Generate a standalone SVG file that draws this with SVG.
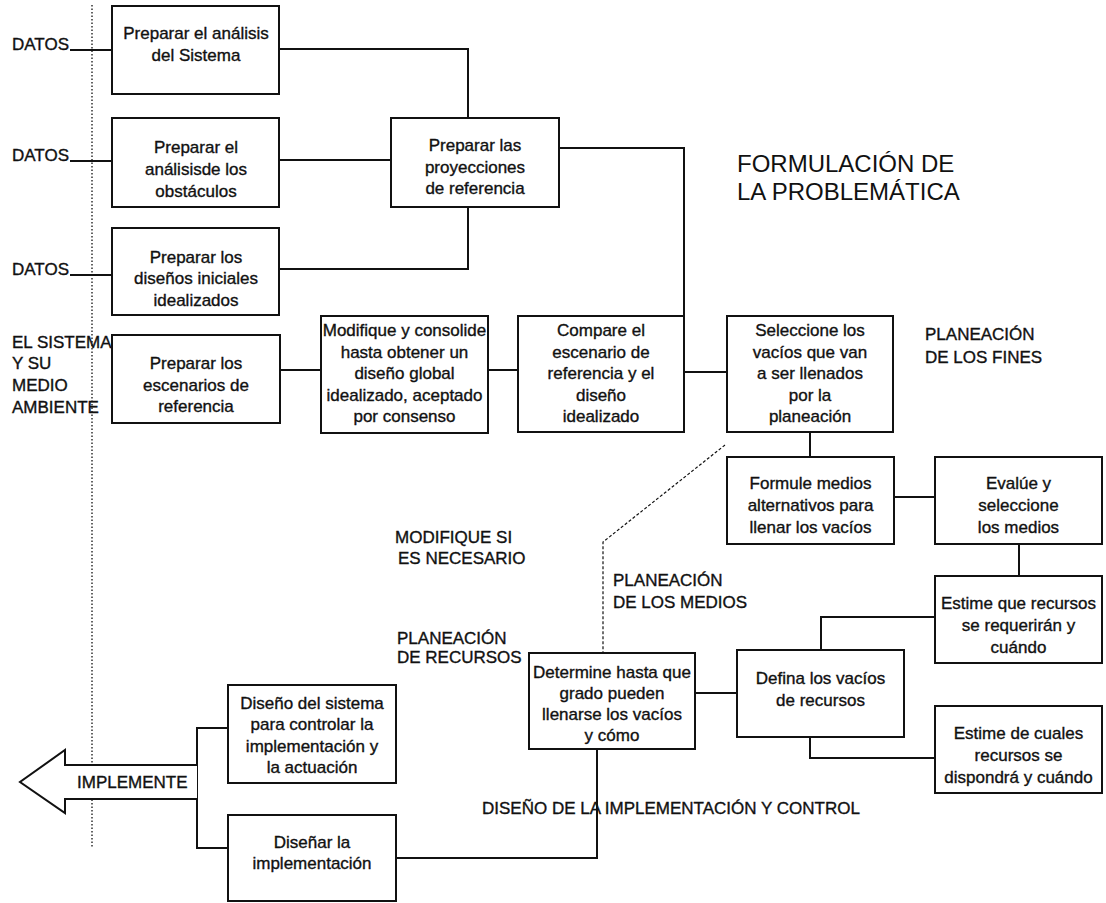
<svg xmlns="http://www.w3.org/2000/svg" width="1106" height="903" viewBox="0 0 1106 903">
<style>
.box{fill:#fff;stroke:#111;stroke-width:2}
.t{font-family:"Liberation Sans",Arial,sans-serif;font-size:17px;fill:#111;stroke:#111;stroke-width:0.35;text-anchor:middle}
.l{font-family:"Liberation Sans",Arial,sans-serif;font-size:17px;fill:#111;stroke:#111;stroke-width:0.35}
.ttl{font-family:"Liberation Sans",Arial,sans-serif;font-size:24px;fill:#111}
.c{fill:none;stroke:#111;stroke-width:2}
.dot{fill:none;stroke:#111;stroke-width:1.3;stroke-dasharray:1.5 2}
.dash{fill:none;stroke:#111;stroke-width:1.2;stroke-dasharray:3 2}
</style>
<rect width="1106" height="903" fill="#fff"/>
<line class="dot" x1="92" y1="5" x2="92" y2="848"/>
<g id="connectors">
<path class="c" d="M70 50H112M70 161H112M70 275H112"/>
<path class="c" d="M279 49H468V118"/>
<path class="c" d="M279 160H391"/>
<path class="c" d="M279 269H468V207"/>
<path class="c" d="M559 148H684V316"/>
<path class="c" d="M280 370H321M488 370H518M684 372H727"/>
<path class="c" d="M810 432V457"/>
<path class="c" d="M894 497H935"/>
<path class="c" d="M1019 544V576"/>
<path class="c" d="M935 617H821V650"/>
<path class="c" d="M810 737V758H935"/>
<path class="c" d="M695 693H737"/>
<path class="dash" d="M725 445L603 542V653"/>
<path class="c" d="M597 749V858H396"/>
<path class="c" d="M228 728H197V848H228"/>
</g>
<g id="implemente">
<path fill="#fff" stroke="#111" stroke-width="2" d="M197 765H65V750L20 782L65 813V799H197"/>
<text class="l" x="77" y="788">IMPLEMENTE</text>
</g>
<g id="labels">
<text class="l" x="12" y="50">DATOS</text>
<text class="l" x="12" y="161">DATOS</text>
<text class="l" x="12" y="275">DATOS</text>
<text class="l" x="12" y="348">EL SISTEMA</text>
<text class="l" x="12" y="369">Y SU</text>
<text class="l" x="12" y="391">MEDIO</text>
<text class="l" x="12" y="413">AMBIENTE</text>
<text class="ttl" x="737" y="172">FORMULACIÓN DE</text>
<text class="ttl" x="737" y="200">LA PROBLEMÁTICA</text>
<text class="l" x="925" y="340">PLANEACIÓN</text>
<text class="l" x="925" y="363">DE LOS FINES</text>
<text class="l" x="395" y="543">MODIFIQUE SI</text>
<text class="l" x="398" y="564">ES NECESARIO</text>
<text class="l" x="613" y="586">PLANEACIÓN</text>
<text class="l" x="613" y="608">DE LOS MEDIOS</text>
<text class="l" x="397" y="644">PLANEACIÓN</text>
<text class="l" x="397" y="663">DE RECURSOS</text>
<text class="l" x="482" y="814">DISEÑO DE LA IMPLEMENTACIÓN Y CONTROL</text>
</g>
<g id="b1"><rect class="box" x="112" y="6" width="167" height="88"/>
<text class="t" x="196" y="39">Preparar el análisis</text><text class="t" x="196" y="61">del Sistema</text></g>
<g id="b2"><rect class="box" x="112" y="118" width="167" height="89"/>
<text class="t" x="196" y="153">Preparar el</text><text class="t" x="196" y="175">análisisde los</text><text class="t" x="196" y="197">obstáculos</text></g>
<g id="b3"><rect class="box" x="112" y="228" width="167" height="87"/>
<text class="t" x="196" y="263">Preparar los</text><text class="t" x="196" y="284">diseños iniciales</text><text class="t" x="196" y="306">idealizados</text></g>
<g id="b4"><rect class="box" x="391" y="118" width="168" height="89"/>
<text class="t" x="475" y="151">Preparar las</text><text class="t" x="475" y="173">proyecciones</text><text class="t" x="475" y="194">de referencia</text></g>
<g id="b5"><rect class="box" x="112" y="335" width="168" height="88"/>
<text class="t" x="196" y="369">Preparar los</text><text class="t" x="196" y="391">escenarios de</text><text class="t" x="196" y="412">referencia</text></g>
<g id="b6"><rect class="box" x="321" y="316" width="167" height="117"/>
<text class="t" x="404.5" y="336">Modifique y consolide</text><text class="t" x="404.5" y="358">hasta obtener un</text><text class="t" x="404.5" y="379">diseño global</text><text class="t" x="404.5" y="401">idealizado, aceptado</text><text class="t" x="404.5" y="422">por consenso</text></g>
<g id="b7"><rect class="box" x="518" y="316" width="166" height="116"/>
<text class="t" x="601" y="336">Compare el</text><text class="t" x="601" y="358">escenario de</text><text class="t" x="601" y="379">referencia y el</text><text class="t" x="601" y="401">diseño</text><text class="t" x="601" y="422">idealizado</text></g>
<g id="b8"><rect class="box" x="727" y="316" width="166" height="116"/>
<text class="t" x="810" y="336">Seleccione los</text><text class="t" x="810" y="358">vacíos que van</text><text class="t" x="810" y="379">a ser llenados</text><text class="t" x="810" y="401">por la</text><text class="t" x="810" y="422">planeación</text></g>
<g id="b9"><rect class="box" x="727" y="457" width="167" height="87"/>
<text class="t" x="810.5" y="489">Formule medios</text><text class="t" x="810.5" y="511">alternativos para</text><text class="t" x="810.5" y="533">llenar los vacíos</text></g>
<g id="b10"><rect class="box" x="935" y="457" width="167" height="87"/>
<text class="t" x="1018.5" y="489">Evalúe y</text><text class="t" x="1018.5" y="511">seleccione</text><text class="t" x="1018.5" y="533">los medios</text></g>
<g id="b11"><rect class="box" x="935" y="576" width="167" height="87"/>
<text class="t" x="1018.5" y="609">Estime que recursos</text><text class="t" x="1018.5" y="631">se requerirán y</text><text class="t" x="1018.5" y="653">cuándo</text></g>
<g id="b12"><rect class="box" x="737" y="650" width="167" height="87"/>
<text class="t" x="820.5" y="684">Defina los vacíos</text><text class="t" x="820.5" y="706">de recursos</text></g>
<g id="b13"><rect class="box" x="935" y="706" width="167" height="87"/>
<text class="t" x="1018.5" y="739">Estime de cuales</text><text class="t" x="1018.5" y="761">recursos se</text><text class="t" x="1018.5" y="783">dispondrá y cuándo</text></g>
<g id="b14"><rect class="box" x="529" y="653" width="166" height="96"/>
<text class="t" x="612" y="678">Determine hasta que</text><text class="t" x="612" y="699">grado pueden</text><text class="t" x="612" y="720">llenarse los vacíos</text><text class="t" x="612" y="741">y cómo</text></g>
<g id="b15"><rect class="box" x="228" y="685" width="168" height="98"/>
<text class="t" x="312" y="709">Diseño del sistema</text><text class="t" x="312" y="730">para controlar la</text><text class="t" x="312" y="752">implementación y</text><text class="t" x="312" y="773">la actuación</text></g>
<g id="b16"><rect class="box" x="228" y="815" width="168" height="86"/>
<text class="t" x="312" y="848">Diseñar la</text><text class="t" x="312" y="869">implementación</text></g>
</svg>
